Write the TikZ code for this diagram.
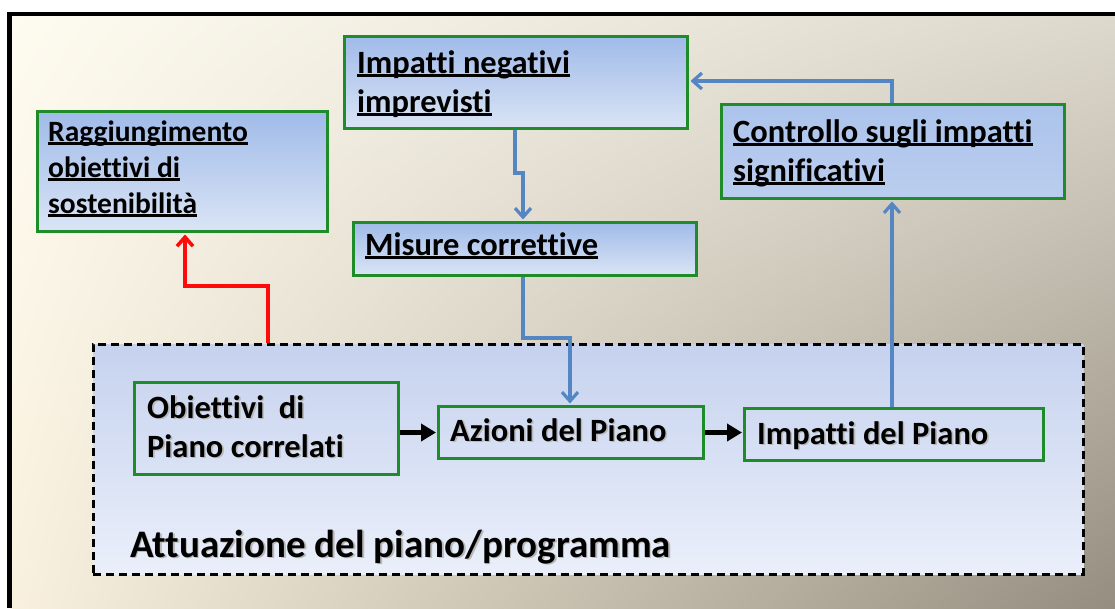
\documentclass[tikz,border=0pt]{standalone}
\usepackage{fontspec}
\setmainfont[Ligatures=NoCommon]{Carlito}
\usetikzlibrary{arrows.meta,calc,shadings}
\definecolor{gbox}{RGB}{30,140,40}
\definecolor{blueline}{RGB}{84,134,196}
\definecolor{redline}{RGB}{255,10,10}
\definecolor{bgUL}{RGB}{254,251,240}
\definecolor{bgUR}{RGB}{222,217,205}
\definecolor{bgLL}{RGB}{249,241,222}
\definecolor{bgLR}{RGB}{149,142,128}
\definecolor{boxTop}{RGB}{160,187,233}
\definecolor{boxBot}{RGB}{218,228,245}
\definecolor{contTop}{RGB}{198,210,238}
\definecolor{contBot}{RGB}{234,239,250}
\newcommand\uln[1]{\setbox0=\hbox{#1}\rlap{\rule[-3.5pt]{\wd0}{2.4pt}}\box0}
\newcommand\shd[1]{\rlap{\hspace{1.6pt}\raisebox{-1.6pt}{\textcolor{black!28}{#1}}}#1}
\begin{document}
\begin{tikzpicture}[x=1pt,y=-1pt,
  topbox/.style={draw=gbox, line width=3pt, top color=boxTop, bottom color=boxBot, anchor=north west, inner sep=0pt},
  innerbox/.style={draw=gbox, line width=3pt, anchor=north west, inner sep=0pt},
  container/.style={draw=black, line width=2.6pt, dash pattern=on 8pt off 5pt, top color=contTop, bottom color=contBot, anchor=north west, inner sep=0pt},
  txt/.style={anchor=base west, inner sep=0pt, font=\bfseries},
  bluearr/.style={draw=blueline, line width=3.2pt, -{Straight Barb[length=9pt,width=16pt]}, shorten >=1.5pt},
  redarr/.style={draw=redline, line width=3.6pt, -{Straight Barb[length=9pt,width=16pt]}, shorten >=1.5pt},
  blkarr/.style={draw=black, line width=5pt, -{Triangle[length=15pt,width=17pt]}, shorten >=1pt}
]
\useasboundingbox (0,0) rectangle (1115,608);
\fill[white] (0,0) rectangle (1115,608);
\shade[upper left=bgUL, upper right=bgUR, lower left=bgLL, lower right=bgLR] (10,14) rectangle (1115,608);
\draw[line width=4.5pt] (7,14) -- (1115,14);
\draw[line width=5pt] (9.5,12) -- (9.5,608);

% container
\node[container, minimum width=990pt, minimum height=230pt] (cont) at (92,343) {};

% top boxes
\node[topbox, minimum width=290pt, minimum height=120pt] (rag) at (36,110) {};
\node[topbox, minimum width=343pt, minimum height=92pt] (impneg) at (343,35) {};
\node[topbox, minimum width=343pt, minimum height=53pt] (mis) at (352,221) {};
\node[topbox, minimum width=343pt, minimum height=94pt, top color=boxTop!80!boxBot, bottom color=boxTop!55!boxBot] (ctrl) at (720,103) {};

% inner boxes
\node[innerbox, minimum width=264pt, minimum height=92pt] (obi) at (133,381) {};
\node[innerbox, minimum width=265pt, minimum height=52pt] (az) at (437,405) {};
\node[innerbox, minimum width=299pt, minimum height=52pt] (ipp) at (743,407) {};

% texts
\node[txt] (ragT) at (48,141) {\fontsize{29.5}{36}\selectfont\begin{tabular}[t]{@{}l@{}}\uln{Raggiungimento}\\\uln{obiettivi di}\\\uln{sostenibilità}\end{tabular}};
\node[txt] (impnegT) at (357,73) {\fontsize{32.5}{39}\selectfont\begin{tabular}[t]{@{}l@{}}\uln{Impatti negativi}\\\uln{imprevisti}\end{tabular}};
\node[txt] (misT) at (365,255) {\fontsize{32.5}{39}\selectfont\uln{Misure correttive}};
\node[txt] (ctrlT) at (733,142) {\fontsize{32.5}{39}\selectfont\begin{tabular}[t]{@{}l@{}}\uln{Controllo sugli impatti}\\\uln{significativi}\end{tabular}};
\node[txt] (obiT) at (147,418) {\fontsize{32.5}{39}\selectfont\begin{tabular}[t]{@{}l@{}}\shd{Obiettivi\ \ di}\\\shd{Piano correlati}\end{tabular}};
\node[txt] (azT) at (450,441) {\fontsize{32.5}{39}\selectfont\shd{Azioni del Piano}};
\node[txt] (ippT) at (757,444) {\fontsize{32.5}{39}\selectfont\shd{Impatti del Piano}};
\node[txt] (contT) at (130,557) {\fontsize{39}{46}\selectfont\shd{Attuazione del piano/programma}};

% connectors
\coordinate (b1a) at (515,173);
\coordinate (b1b) at (523,173);
\draw[bluearr] (b1a |- impneg.south) -- (b1a) -- (b1b) -- (b1b |- mis.north);
\coordinate (b2a) at (523,338);
\coordinate (b2b) at (570,338);
\draw[bluearr] (b2a |- mis.south) -- (b2a) -- (b2b) -- (b2b |- az.north);
\coordinate (b3) at (892,300);
\draw[bluearr] (b3 |- ipp.north) -- (b3 |- ctrl.south);
\coordinate (b4) at (892,81);
\draw[bluearr] (b4 |- ctrl.north) -- (b4) -- (b4 -| impneg.east);
\coordinate (r1) at (268,286);
\coordinate (r2) at (185,286);
\draw[redarr] (r1 |- cont.north) -- (r1) -- (r2) -- (r2 |- rag.south);
\draw[blkarr] (az.west -| obi.east) -- (az.west);
\draw[blkarr] (az.east) -- (ipp.west |- az.east);
\end{tikzpicture}
\end{document}
